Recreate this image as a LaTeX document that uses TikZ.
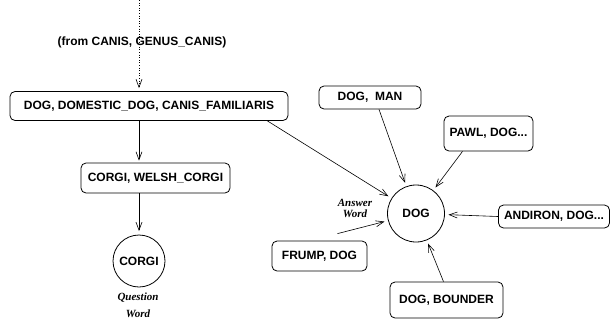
\documentclass[tikz,border=0pt]{standalone}
\usepackage{fontspec}
\setmainfont{Liberation Sans}
\newfontfamily\timesbi{Liberation Serif}
\usetikzlibrary{arrows.meta}
\tikzset{
  box/.style={draw, rounded corners=5pt, line width=0.8pt, inner sep=0pt,
    font=\bfseries\fontsize{12}{14}\selectfont},
  ring/.style={draw, circle, line width=0.8pt, inner sep=0pt, outer sep=4pt,
    font=\bfseries\fontsize{12}{14}\selectfont},
  tag/.style={font=\timesbi\bfseries\itshape\fontsize{11}{13}\selectfont, align=center},
  link/.style={-{Straight Barb[length=8pt,width=6pt]}, line width=0.6pt},
}
\begin{document}
\begin{tikzpicture}[x=1pt,y=-1pt]
\useasboundingbox (0,0) rectangle (610,322);
% hypernym chain
\node (from) at (142,42) {\bfseries\fontsize{12}{14}\selectfont (from CANIS, GENUS\_CANIS)};
\node[box, minimum width=278pt, minimum height=29pt] (dogset) at (149,106) {DOG, DOMESTIC\_DOG, CANIS\_FAMILIARIS};
\node[box, minimum width=149pt, minimum height=30pt] (welsh) at (155.5,178) {CORGI, WELSH\_CORGI};
\node[ring, minimum size=52pt] (corgi) at (139,261) {CORGI};
\node[tag] (qword) at (138,305) {Question\\[4pt]Word};
% answer side
\node[ring, minimum size=57pt] (dog) at (416,213.5) {DOG};
\node[tag, font=\timesbi\bfseries\itshape\fontsize{11}{11}\selectfont] (aword) at (355,208) {Answer\\Word};
\node[box, minimum width=102pt, minimum height=23pt] (man) at (370,97.5) {DOG,\ \ MAN};
\node[box, minimum width=89pt, minimum height=35pt] (pawl) at (488.5,133.5) {PAWL, DOG...};
\node[box, minimum width=111pt, minimum height=23pt] (andiron) at (554,216.5) {ANDIRON, DOG...};
\node[box, minimum width=95pt, minimum height=30pt] (frump) at (319.5,256) {\raisebox{-3pt}{FRUMP, DOG}};
\node[box, minimum width=113pt, minimum height=36pt] (bounder) at (446.5,300) {DOG, BOUNDER};
\coordinate (top) at (139,0);
\coordinate (fstart) at ([xshift=18pt,yshift=7pt]frump.north);
% connectors
\draw[link, dotted, shorten >=3pt] (top) -- (dogset.north -| corgi);
\draw[link, shorten >=2pt] (dogset.south -| corgi) -- (welsh.north -| corgi);
\draw[link] (welsh.south -| corgi) -- (corgi);
\draw[link] ([xshift=-21pt]dogset.south east) -- (dog);
\draw[link] ([xshift=9pt]man.south) -- (dog);
\draw[link] ([xshift=-26pt]pawl.south) -- (dog);
\draw[link] (andiron.west) -- (dog);
\draw[link] (fstart) -- (dog);
\draw[link] ([xshift=-3pt]bounder.north) -- (dog);
\end{tikzpicture}
\end{document}
